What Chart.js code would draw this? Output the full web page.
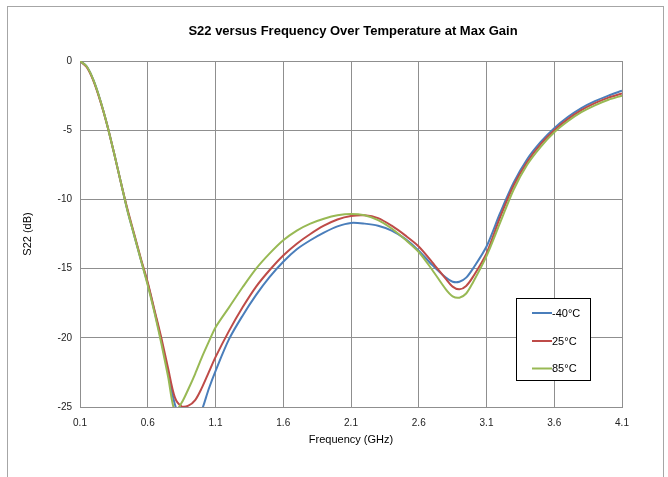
<!DOCTYPE html>
<html>
<head>
<meta charset="utf-8">
<script src="https://cdn.jsdelivr.net/npm/chart.js@4/dist/chart.umd.min.js"></script>
<style>
  html, body { margin: 0; padding: 0; background: #fff; }
  #wrap { width: 668px; height: 477px; }
</style>
</head>
<body>
<div id="wrap"><canvas id="c" width="668" height="477"></canvas></div>
<script>
const chartTitle = "S22 versus Frequency Over Temperature at Max Gain";
const xTitle = "Frequency (GHz)";
const yTitle = "S22 (dB)";
const xTicks = [0.1, 0.6, 1.1, 1.6, 2.1, 2.6, 3.1, 3.6, 4.1];
const yTicks = [0, -5, -10, -15, -20, -25];
const seriesLabels = ["-40°C", "25°C", "85°C"];

const freq = [0.1, 0.15, 0.2, 0.25, 0.3, 0.35, 0.4, 0.45, 0.5, 0.55, 0.6, 0.65, 0.7, 0.75, 0.8, 0.85, 0.9, 0.95, 1.0, 1.05, 1.1,
  1.2, 1.3, 1.4, 1.5, 1.6, 1.7, 1.8, 1.9, 2.0, 2.1, 2.2, 2.3, 2.4, 2.5, 2.6, 2.7, 2.8, 2.85, 2.9, 2.95, 3.0,
  3.1, 3.2, 3.3, 3.4, 3.5, 3.6, 3.7, 3.8, 3.9, 4.0, 4.1];

const sMinus40 = [0, -0.4, -1.4, -2.85, -4.6, -6.6, -8.7, -10.8, -12.6, -14.4, -16.1, -18.1, -20.2, -22.5, -24.8, -26.0, -26.5, -26.2, -25.2, -23.7, -22.4,
  -20.1, -18.4, -16.9, -15.6, -14.5, -13.6, -12.95, -12.4, -11.95, -11.7, -11.75, -11.9, -12.25, -12.85, -13.7, -14.75, -15.65, -15.95, -15.95, -15.65, -15.0,
  -13.4, -11.0, -8.8, -7.1, -5.85, -4.85, -4.05, -3.4, -2.9, -2.5, -2.15];

const s25 = [0, -0.45, -1.45, -2.9, -4.6, -6.6, -8.7, -10.7, -12.5, -14.3, -16.0, -18.0, -20.0, -22.2, -24.3, -24.95, -24.9, -24.5, -23.6, -22.5, -21.4,
  -19.5, -17.8, -16.3, -15.1, -14.05, -13.2, -12.5, -11.9, -11.45, -11.2, -11.15, -11.35, -11.9, -12.6, -13.4, -14.55, -15.75, -16.3, -16.5, -16.25, -15.6,
  -13.9, -11.3, -9.0, -7.3, -6.0, -5.0, -4.2, -3.55, -3.05, -2.65, -2.35];

const s85 = [0, -0.4, -1.4, -2.85, -4.6, -6.6, -8.7, -10.8, -12.6, -14.4, -16.2, -18.2, -20.4, -22.8, -25.3, -24.7, -23.7, -22.6, -21.4, -20.3, -19.25,
  -17.8, -16.35, -15.0, -13.9, -12.95, -12.25, -11.75, -11.4, -11.15, -11.05, -11.15, -11.5, -12.1, -12.9, -13.8, -15.1, -16.5, -17.0, -17.1, -16.8, -16.0,
  -14.1, -11.7, -9.3, -7.5, -6.2, -5.15, -4.35, -3.7, -3.2, -2.8, -2.5];

const seriesValues = [sMinus40, s25, s85];
const seriesColors = ["#4A7EBB", "#BE4B48", "#98B954"];

const FONT = "'Liberation Sans', Arial, sans-serif";
const gridColor = "#8f8f8f";

const framePlugin = {
  id: 'frame',
  beforeDraw(chart) {
    const ctx = chart.ctx;
    ctx.save();
    ctx.fillStyle = '#fff';
    ctx.fillRect(0, 0, chart.width, chart.height);
    ctx.strokeStyle = '#a6a6a6';
    ctx.lineWidth = 1;
    ctx.strokeRect(7.5, 6.5, 656, 520);
    ctx.restore();
  },
  afterDraw(chart) {
    const ctx = chart.ctx;
    ctx.save();
    ctx.fillStyle = '#000';
    ctx.font = "bold 13px " + FONT;
    ctx.textAlign = 'center';
    ctx.textBaseline = 'middle';
    ctx.fillText(chartTitle, 353, 31);
    const bx = 516.5, by = 298.5, bw = 74, bh = 82;
    ctx.fillStyle = '#fff';
    ctx.fillRect(bx, by, bw, bh);
    ctx.strokeStyle = '#000';
    ctx.lineWidth = 1;
    ctx.strokeRect(bx, by, bw, bh);
    ctx.font = "11px " + FONT;
    ctx.textAlign = 'left';
    const rows = [313, 341, 368.5];
    chart.data.datasets.forEach((ds, i) => {
      ctx.strokeStyle = ds.borderColor;
      ctx.lineWidth = 2;
      ctx.beginPath();
      ctx.moveTo(532, rows[i]);
      ctx.lineTo(552, rows[i]);
      ctx.stroke();
      ctx.fillStyle = '#000';
      ctx.fillText(ds.label, 552, rows[i] + 0.5);
    });
    ctx.restore();
  }
};

const datasets = seriesValues.map((vals, i) => ({
  label: seriesLabels[i],
  data: freq.map((f, j) => ({ x: f, y: vals[j] })),
  borderColor: seriesColors[i],
  backgroundColor: seriesColors[i],
  borderWidth: 2,
  pointRadius: 0,
  fill: false,
  tension: 0.3,
  order: 2 - i
}));

new Chart(document.getElementById('c'), {
  type: 'line',
  data: { datasets },
  options: {
    responsive: false,
    animation: false,
    devicePixelRatio: 1,
    layout: { padding: { left: 0, top: 61, right: 46, bottom: 0 } },
    plugins: {
      legend: { display: false },
      title: { display: false },
      tooltip: { enabled: false }
    },
    scales: {
      x: {
        type: 'linear',
        min: 0.1, max: 4.1,
        afterBuildTicks: s => { s.ticks = xTicks.map(v => ({ value: v })); },
        afterFit: s => { s.height = 70; },
        grid: { color: gridColor, lineWidth: 1, drawTicks: false },
        border: { color: gridColor, width: 1 },
        ticks: {
          padding: 10,
          color: '#222',
          font: { family: FONT, size: 10 },
          maxRotation: 0,
          callback: v => Number(v).toFixed(1)
        },
        title: {
          display: true, text: xTitle, color: '#000',
          font: { family: FONT, size: 11 },
          padding: { top: 0, bottom: 30 }
        }
      },
      y: {
        type: 'linear',
        min: -25, max: 0,
        afterBuildTicks: s => { s.ticks = yTicks.map(v => ({ value: v })); },
        afterFit: s => { s.width = 80; },
        grid: { color: gridColor, lineWidth: 1, drawTicks: false },
        border: { color: gridColor, width: 1 },
        ticks: {
          padding: 8,
          color: '#222',
          font: { family: FONT, size: 10 },
          callback: v => String(v)
        },
        title: {
          display: true, text: yTitle, color: '#000',
          font: { family: FONT, size: 11 },
          padding: { top: 21, bottom: 0 }
        }
      }
    }
  },
  plugins: [framePlugin]
});
</script>
</body>
</html>
